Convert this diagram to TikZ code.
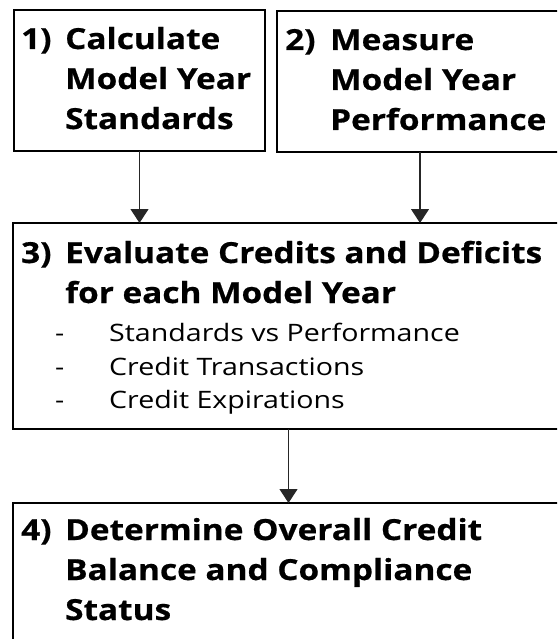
\documentclass[tikz,border=0pt]{standalone}
\usepackage{fontspec}
\setmainfont{Open Sans}[FakeStretch=1.15, BoldFeatures={FakeBold=0.6}]
\newfontfamily\bodyfont{Open Sans}[FakeStretch=1.19]
\usetikzlibrary{arrows.meta}
\begin{document}
\begin{tikzpicture}[x=1pt,y=-1pt,
  box/.style={draw=black, line width=2pt, anchor=north west, inner sep=0pt, outer sep=0pt},
  hd/.style={anchor=base west, inner sep=0pt, font=\bfseries\fontsize{29}{40}\selectfont},
  bd/.style={anchor=base west, inner sep=0pt, font=\bodyfont\fontsize{24}{33}\selectfont},
  arr/.style={line width=1.2pt, draw=black!85, -{Triangle[width=18pt,length=14pt]}}]
\useasboundingbox (0,0) rectangle (557,639);
\clip (0,0) rectangle (557,639);
% boxes
\node[box, minimum width=251pt, minimum height=141pt] (b1) at (14,10) {};
\node[box, minimum width=286pt, minimum height=141pt] (b2) at (277,11) {};
\node[box, minimum width=551pt, minimum height=206pt] (b3) at (13,223) {};
\node[box, minimum width=551pt, minimum height=160pt] (b4) at (13,503) {};
% box 1
\node[hd] (n1) at (21,49) {1)};
\node[hd] (t1a) at (65,49) {Calculate};
\node[hd] (t1b) at (65,89) {Model Year};
\node[hd] (t1c) at (65,129) {Standards};
% box 2
\node[hd] (n2) at (285,50) {2)};
\node[hd] (t2a) at (330,50) {Measure};
\node[hd] (t2b) at (330,90) {Model Year};
\node[hd] (t2c) at (330,130) {Performance};
% box 3
\node[hd] (n3) at (21,263) {3)};
\node[hd] (t3a) at (65,263) {Evaluate Credits and Deficits};
\node[hd] (t3b) at (65,303) {for each Model Year};
\node[bd] (d1) at (55,341) {-};
\node[bd] (d2) at (55,375) {-};
\node[bd] (d3) at (55,408) {-};
\node[bd] (s1) at (109,341) {Standards vs Performance};
\node[bd] (s2) at (109,375) {Credit Transactions};
\node[bd] (s3) at (109,408) {Credit Expirations};
% box 4
\node[hd] (n4) at (21,540) {4)};
\node[hd] (t4a) at (65,540) {Determine Overall Credit};
\node[hd] (t4b) at (65,580) {Balance and Compliance};
\node[hd] (t4c) at (65,620) {Status};
% arrows
\draw[arr] (b1.south) -- (b1.south |- b3.north);
\draw[arr] (b2.south) -- (b2.south |- b3.north);
\draw[arr] (b3.south) -- (b4.north);
\end{tikzpicture}
\end{document}
